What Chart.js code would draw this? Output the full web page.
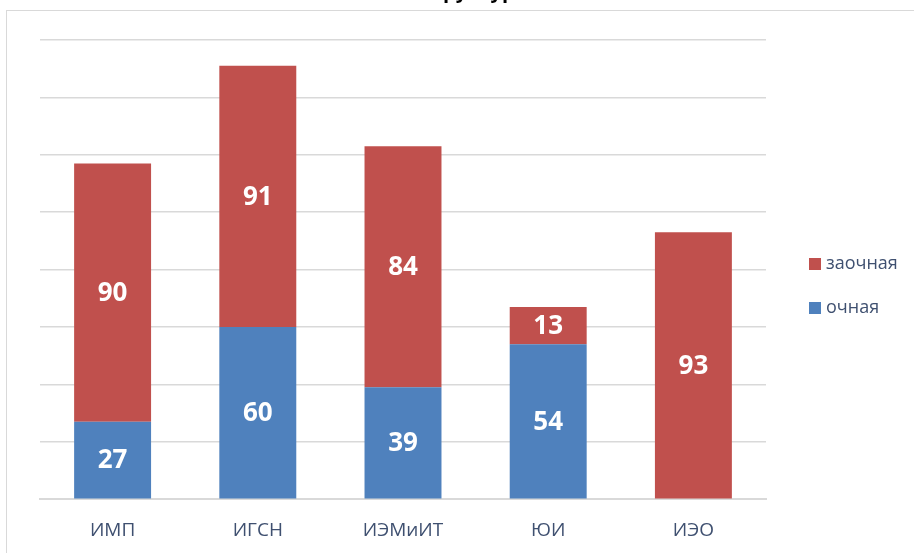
<!DOCTYPE html>
<html lang="ru">
<head>
<meta charset="UTF-8">
<title>Структура контингента</title>
<script src="https://cdn.jsdelivr.net/npm/chart.js@4/dist/chart.umd.min.js"></script>
<style>
    body { margin: 0; background: #fff; }
    #wrap { position: relative; width: 914px; height: 553px; overflow: hidden; }
    #frame { position: absolute; left: 6px; top: 10px; right: -10px; bottom: -10px;
             border-left: 1px solid #D9D9D9; border-top: 1px solid #D9D9D9; }
    #chart { position: absolute; left: 0; top: -20px; }
</style>
</head>
<body>
<div id="wrap">
    <div id="frame"></div>
    <canvas id="chart" width="914" height="593"></canvas>
</div>
<script>
const title = 'Контингент по структурам';
const categories = ['ИМП', 'ИГСН', 'ИЭМиИТ', 'ЮИ', 'ИЭО'];
const ochnaya = [27, 60, 39, 54, 0];
const zaochnaya = [90, 91, 84, 13, 93];
const yMax = 160;
const yStep = 20;

const textColor = '#3F5070';
const font = '"Open Sans", "Liberation Sans", sans-serif';
const OFF = 20; // canvas is shifted up so the title is cut off like in the screenshot

// white numbers inside the bars
const barLabels = {
    id: 'barLabels',
    afterDatasetsDraw(chart) {
        const ctx = chart.ctx;
        ctx.save();
        ctx.fillStyle = '#fff';
        ctx.font = 'bold 26px ' + font;
        ctx.textAlign = 'center';
        ctx.textBaseline = 'middle';
        chart.data.datasets.forEach((ds, i) => {
            chart.getDatasetMeta(i).data.forEach((el, j) => {
                const v = ds.data[j];
                if (!v) return;
                ctx.fillText(v, el.x, (el.y + el.base) / 2 + 1);
            });
        });
        ctx.restore();
    }
};

// legend on the right, reversed order
const sideLegend = {
    id: 'sideLegend',
    afterDraw(chart) {
        const ctx = chart.ctx;
        const items = chart.data.datasets.slice().reverse();
        ctx.save();
        ctx.font = '18px ' + font;
        ctx.textBaseline = 'middle';
        items.forEach((ds, k) => {
            const y = OFF + 264 + k * 44;
            ctx.fillStyle = ds.backgroundColor;
            ctx.fillRect(809, y - 6, 12, 12);
            ctx.fillStyle = textColor;
            ctx.fillText(ds.label, 826, y);
        });
        ctx.restore();
    }
};

new Chart(document.getElementById('chart'), {
    type: 'bar',
    data: {
        labels: categories,
        datasets: [
            { label: 'очная', data: ochnaya, backgroundColor: '#4F81BD' },
            { label: 'заочная', data: zaochnaya, backgroundColor: '#C0504D' }
        ]
    },
    options: {
        responsive: false,
        animation: false,
        layout: { padding: { left: 40, right: 148, top: 0, bottom: 11 } },
        datasets: { bar: { categoryPercentage: 1, barPercentage: 0.53 } },
        plugins: {
            legend: { display: false },
            tooltip: { enabled: false },
            title: {
                display: true,
                text: title,
                color: '#000',
                font: { family: font, size: 20, weight: 'bold' },
                padding: { top: 0, bottom: 36 }
            }
        },
        scales: {
            x: {
                stacked: true,
                grid: { display: false, drawTicks: false },
                border: { color: '#D9D9D9', width: 2 },
                ticks: { color: textColor, padding: 20, font: { family: font, size: 19 } }
            },
            y: {
                stacked: true,
                min: 0,
                max: yMax,
                grid: { color: '#D9D9D9', lineWidth: 1.5, drawTicks: false },
                border: { display: false },
                ticks: { display: false, stepSize: yStep }
            }
        }
    },
    plugins: [barLabels, sideLegend]
});
</script>
</body>
</html>
